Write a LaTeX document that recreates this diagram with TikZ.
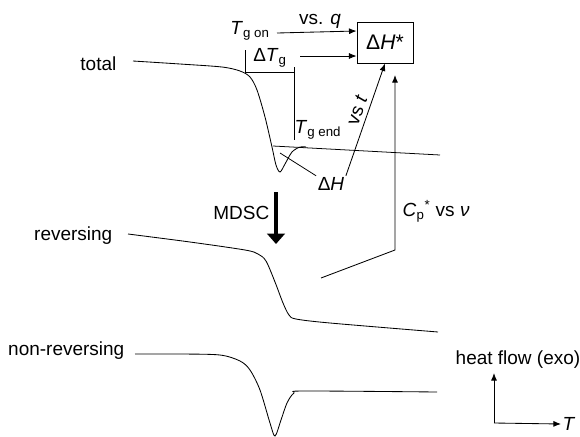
\documentclass[tikz,border=0pt]{standalone}
\usepackage{fontspec}
\setmainfont{Liberation Sans}
\usepackage{tikz}
\usetikzlibrary{arrows.meta,calc,positioning}
\tikzset{
  % a measured DSC trace
  trace/.style  = {line width=0.6pt},
  % thin helper lines (ticks, leaders, extrapolated baseline)
  hline/.style  = {line width=0.55pt},
  % a thin arrow pointing into the result box
  farrow/.style = {line width=0.6pt, -{Latex[length=1.9mm,width=1.5mm]}},
  % the heavy MDSC arrow
  marrow/.style = {line width=2.2pt, -{Triangle[length=2.6mm,width=4.4mm]}},
  % label font for figures
  glabel/.style = {font=\fontsize{13.5}{15}\selectfont, inner sep=1pt},
}

\begin{document}
\begin{tikzpicture}[x=0.025cm,y=-0.025cm]
  \useasboundingbox (0,0) rectangle (580,436);
  % curve names on the left
  \node[glabel,anchor=east] (ltot) at (118,64) {total};
  \node[glabel,anchor=east] (lrev) at (114,236) {reversing};
  \node[glabel,anchor=east] (lnon) at (126,351) {non-reversing};
  % total heat flow
  \draw[trace] plot[smooth,tension=0.5] coordinates {(133,61) (180,64) (222,67) (240,71) (250,77)
    (257,90) (265,117) (272,147) (276,165) (280,172) (285,164) (292,152) (300,147) (306,147)};
  \draw[hline] (273,146) -- (440,155);
  % T_g on / T_g end marks
  \coordinate (on) at (245,72);
  \coordinate (end) at (294,72);
  \draw[hline] (245,50) -- (on) -- (end);
  \draw[hline] (294,67) -- (294,140);
  \node[glabel] (tgon) at (250,31) {\textit{T}\textsubscript{g on}};
  \node[glabel] (dtg) at (270,58) {Δ\textit{T}\textsubscript{g}};
  \node[glabel] (tgend) at (318,130) {\textit{T}\textsubscript{g end}};
  \node[glabel] (dh) at (331,184) {Δ\textit{H}};
  \draw[hline] (280,153) -- (dh.north west);
  % result box
  \node[draw,line width=0.6pt,minimum width=1.4cm,minimum height=1.025cm,inner sep=0pt,
    font=\fontsize{15}{17}\selectfont] (box) at (385,42.5) {Δ\textit{H}*};
  \draw[farrow] (277,33) -- (tgon -| box.west) coordinate (a1);
  \node[glabel] (vsq) at (320,21) {vs. \textit{q}};
  \draw[farrow] (300,56) -- (300,56 -| box.west);
  \draw[farrow] (dh.north east) -- node[glabel,sloped,above,pos=0.55,inner sep=3pt] (vst) {vs \textit{t}} (box.south);
  % C_p* vs nu
  \coordinate (cpfoot) at (321,278);
  \coordinate (cpknee) at (395,250);
  \coordinate (cptip) at (395,75);
  \draw[farrow] (cpfoot) -- (cpknee) -- (cptip);
  \node[glabel,anchor=west] (cp) at (401,211) {\textit{C}\textsubscript{p}\textsuperscript{*} vs \textit{ν}};
  % MDSC splitting
  \node[glabel,anchor=east] (mdsc) at (271,213) {MDSC};
  \draw[marrow] (276,192) -- (276,244);
  % reversing heat flow
  \draw[trace] plot[smooth,tension=0.5] coordinates {(128,234) (190,242) (245,250) (258,254) (266,261)
    (275,282) (283,303) (289,315) (296,319) (330,323) (438,332)};
  % non-reversing heat flow
  \draw[trace] plot[smooth,tension=0.5] coordinates {(135,354) (180,354) (220,355) (240,361) (250,370)
    (260,390) (270,423) (275,436) (281,420) (287,403) (294,393) (305,391) (437,392)};
  % axes
  \coordinate (org) at (494,423);
  \node[glabel] (hf) at (518,360) {heat flow (exo)};
  \node[glabel,anchor=west] (tax) at (561,424) {\textit{T}};
  \draw[farrow] (org) -- (494,373);
  \draw[farrow] (org) -- (tax.west);
\end{tikzpicture}
\end{document}
